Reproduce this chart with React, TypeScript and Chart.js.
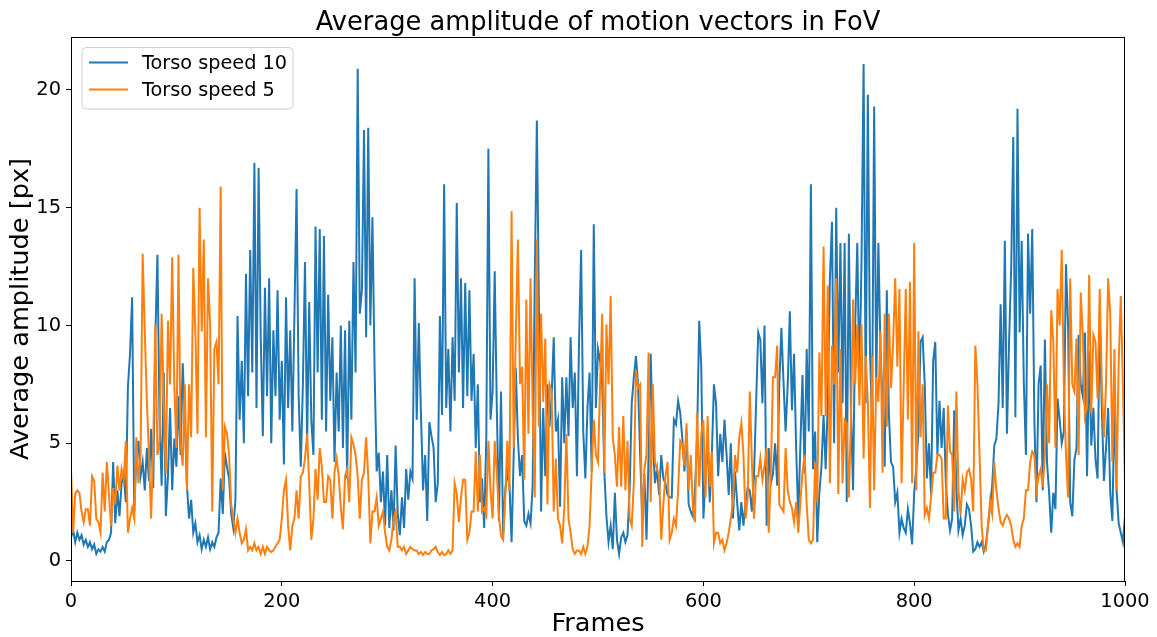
import React, { useEffect, useRef } from 'react';
import { Chart, registerables } from 'chart.js';

Chart.register(...registerables);

const FRAME_STEP = 2;
const X_TICKS = [0, 200, 400, 600, 800, 1000];
const Y_TICKS = [0, 5, 10, 15, 20];
const TITLE = 'Average amplitude of motion vectors in FoV';
const X_LABEL = 'Frames';
const Y_LABEL = 'Average amplitude [px]';
const SERIES_NAMES = ['Torso speed 10', 'Torso speed 5'];

// Torso speed 10 (blue), one value every 2 frames
const speed10_000 = [1.0, 1.3, 0.8, 1.2, 0.9, 1.1, 0.7, 0.9, 0.6, 0.8, 0.5, 0.7, 0.3, 0.5, 0.4, 0.6, 0.4, 0.8, 0.9, 1.2, 4.2, 1.6, 3.0, 1.9, 3.3, 3.7, 2.5, 7.4, 8.8, 11.2, 2.1, 4.4, 5.1, 3.6, 4.2, 3.0, 4.8, 3.4, 5.6, 3.1, 9.5, 13.0, 6.0, 3.2, 8.0, 1.9, 3.6, 6.5, 3.0, 5.2];
const speed10_100 = [4.0, 7.0, 4.5, 8.4, 6.0, 3.2, 1.8, 2.6, 1.2, 1.6, 0.8, 1.1, 0.5, 0.9, 0.6, 1.0, 0.5, 0.8, 0.6, 1.0, 1.2, 3.5, 2.0, 4.6, 4.0, 3.5, 2.0, 1.4, 2.6, 10.4, 6.0, 8.5, 5.0, 12.2, 7.0, 13.2, 8.0, 16.9, 6.5, 16.7, 9.5, 5.3, 11.6, 7.0, 12.0, 5.0, 9.8, 7.0, 11.5, 6.0];
const speed10_200 = [8.5, 4.1, 11.2, 6.5, 9.8, 5.5, 10.5, 15.8, 7.0, 4.0, 7.5, 12.7, 5.0, 11.0, 6.0, 4.5, 14.2, 8.0, 14.1, 6.0, 13.8, 5.5, 11.3, 6.8, 9.5, 4.2, 8.0, 5.5, 10.0, 4.8, 9.8, 3.5, 10.2, 6.0, 12.7, 8.0, 20.9, 10.5, 11.5, 18.3, 9.5, 18.4, 10.0, 14.6, 8.2, 3.8, 4.6, 2.5, 3.8, 1.5];
const speed10_300 = [4.5, 1.4, 3.0, 1.3, 4.9, 2.0, 1.1, 2.7, 1.4, 3.9, 2.6, 3.8, 3.5, 12.0, 6.0, 10.1, 6.3, 3.0, 4.5, 1.7, 5.9, 5.3, 4.8, 2.5, 3.3, 10.4, 6.2, 16.0, 6.5, 9.0, 5.5, 9.5, 6.8, 15.2, 8.0, 12.0, 6.5, 11.8, 7.0, 11.5, 6.8, 8.8, 4.8, 7.5, 2.5, 3.5, 1.4, 5.2, 17.5, 6.0];
const speed10_400 = [7.2, 12.3, 6.5, 1.7, 7.2, 1.1, 3.0, 3.8, 3.2, 0.8, 4.5, 8.2, 5.2, 3.6, 4.5, 1.7, 1.5, 2.0, 1.6, 3.2, 12.0, 18.7, 10.6, 2.1, 6.5, 3.6, 7.5, 5.7, 7.0, 9.5, 5.5, 6.0, 2.3, 7.8, 5.0, 7.8, 5.3, 9.5, 6.5, 8.0, 3.6, 9.3, 13.2, 5.5, 3.5, 6.5, 8.0, 3.8, 14.3, 6.5];
const speed10_500 = [9.0, 8.5, 7.5, 3.8, 1.9, 0.8, 1.5, 0.5, 2.9, 0.9, 0.3, 1.0, 1.2, 0.8, 1.1, 3.0, 6.7, 7.8, 8.7, 7.5, 4.5, 1.8, 3.7, 0.9, 4.5, 8.8, 5.2, 3.3, 3.9, 2.8, 4.5, 3.5, 3.3, 2.8, 2.7, 2.7, 6.0, 5.8, 6.8, 6.3, 5.2, 3.8, 5.5, 2.4, 2.1, 1.9, 3.0, 5.2, 10.2, 8.2];
const speed10_600 = [1.8, 3.6, 5.2, 2.5, 4.5, 7.5, 6.7, 3.6, 5.4, 4.2, 6.0, 4.5, 2.8, 5.0, 1.8, 3.8, 2.5, 1.3, 2.5, 1.5, 2.5, 3.1, 3.0, 2.1, 3.6, 6.7, 9.7, 9.4, 6.7, 10.0, 1.5, 4.8, 3.3, 3.7, 5.0, 3.2, 7.5, 9.9, 7.6, 5.5, 7.5, 10.6, 6.4, 8.8, 4.8, 1.8, 4.9, 7.9, 3.7, 9.0];
const speed10_700 = [5.5, 16.0, 3.9, 5.5, 0.8, 2.9, 4.0, 6.2, 3.9, 6.7, 12.0, 14.4, 5.0, 15.0, 8.0, 13.5, 6.7, 13.5, 2.5, 13.9, 6.5, 3.0, 10.0, 13.5, 7.5, 12.7, 21.1, 6.7, 19.8, 9.0, 5.8, 19.3, 7.5, 13.5, 9.0, 6.8, 4.0, 11.5, 6.2, 4.2, 4.0, 2.5, 2.9, 1.2, 1.8, 1.4, 1.2, 2.2, 1.6, 0.7];
const speed10_800 = [2.9, 4.0, 5.5, 9.3, 9.5, 7.5, 3.5, 5.0, 2.8, 8.5, 9.3, 4.5, 6.8, 4.8, 6.5, 3.3, 2.0, 1.3, 1.8, 6.4, 3.1, 1.3, 1.8, 1.1, 1.5, 2.4, 2.2, 1.5, 0.4, 0.5, 0.8, 0.6, 0.8, 0.4, 0.7, 1.5, 2.3, 3.2, 4.9, 5.2, 6.7, 10.9, 6.5, 13.6, 5.4, 9.3, 12.4, 18.0, 6.1, 19.2];
const speed10_900 = [9.7, 13.6, 7.6, 4.5, 13.9, 10.5, 14.1, 6.0, 2.5, 7.5, 8.3, 3.0, 9.4, 4.2, 2.9, 1.2, 2.9, 2.2, 6.9, 6.0, 5.0, 5.5, 12.6, 10.0, 2.5, 1.9, 4.3, 4.8, 9.6, 7.5, 7.0, 9.7, 3.6, 8.9, 4.9, 6.5, 4.3, 3.5, 10.3, 6.5, 3.4, 4.8, 6.5, 2.9, 1.7, 6.7, 3.0, 1.6, 1.2, 0.8];
const speed10_last = [1.9];

// Torso speed 5 (orange), one value every 2 frames
const speed5_000 = [3.9, 1.2, 2.85, 3.0, 2.9, 2.1, 1.65, 2.2, 2.2, 1.5, 3.6, 3.4, 1.8, 1.65, 1.2, 3.75, 2.1, 4.2, 2.85, 1.5, 3.1, 2.4, 4.05, 3.0, 3.9, 3.45, 5.1, 1.2, 1.8, 2.25, 1.8, 5.25, 3.3, 4.5, 13.05, 9.75, 6.75, 4.5, 1.8, 4.8, 10.05, 4.5, 5.1, 10.5, 6.75, 3.75, 10.2, 7.5, 12.9, 7.5];
const speed5_100 = [4.8, 13.0, 5.0, 4.05, 7.5, 3.0, 7.5, 5.25, 12.45, 9.75, 5.4, 15.0, 9.75, 13.65, 5.25, 12.0, 10.05, 2.1, 9.0, 9.3, 7.5, 15.9, 3.0, 5.7, 5.4, 4.5, 2.4, 1.8, 1.2, 1.8, 1.2, 0.75, 0.9, 1.35, 0.45, 0.6, 0.45, 0.75, 0.45, 0.6, 0.3, 0.6, 0.3, 0.6, 0.45, 0.38, 0.45, 0.6, 0.75, 0.9];
const speed5_200 = [1.8, 3.0, 3.45, 1.5, 0.45, 1.5, 1.8, 3.0, 1.8, 3.6, 3.75, 4.35, 5.4, 3.3, 0.9, 1.8, 3.9, 2.6, 4.8, 4.0, 2.5, 2.5, 3.6, 3.45, 1.8, 3.75, 4.35, 3.6, 2.25, 1.35, 3.6, 3.9, 2.5, 5.25, 4.95, 4.5, 3.6, 1.8, 3.45, 3.75, 5.25, 3.6, 0.75, 2.1, 2.1, 2.7, 1.5, 1.8, 2.1, 1.2];
const speed5_300 = [0.6, 0.45, 0.9, 1.8, 2.1, 0.6, 0.6, 0.45, 0.6, 0.3, 0.45, 0.6, 0.5, 0.45, 0.45, 0.3, 0.38, 0.25, 0.38, 0.3, 0.3, 0.45, 0.5, 0.6, 0.38, 0.25, 0.38, 0.25, 0.3, 0.45, 0.3, 0.45, 3.3, 2.85, 1.65, 2.7, 3.45, 3.45, 0.9, 1.2, 2.1, 2.1, 4.65, 2.1, 4.5, 2.1, 2.25, 1.95, 5.1, 3.0];
const speed5_400 = [1.8, 5.1, 3.75, 1.95, 1.05, 0.9, 2.7, 5.1, 3.0, 14.85, 4.8, 9.6, 13.65, 7.5, 8.25, 3.45, 11.1, 5.4, 12.0, 6.45, 2.7, 13.65, 5.7, 10.5, 6.75, 9.45, 2.4, 7.5, 7.2, 2.1, 4.35, 1.8, 1.5, 0.75, 2.25, 5.4, 1.8, 1.2, 0.5, 0.3, 0.45, 0.45, 0.3, 0.6, 0.3, 0.6, 1.5, 3.8, 6.0, 4.5];
const speed5_500 = [4.2, 7.5, 10.5, 3.75, 10.05, 7.5, 11.25, 5.25, 4.5, 3.15, 5.7, 3.15, 6.15, 3.0, 5.1, 1.8, 1.5, 3.3, 8.1, 7.35, 7.5, 0.6, 3.9, 4.5, 8.85, 2.5, 7.5, 4.2, 3.9, 3.6, 0.9, 2.4, 3.6, 4.2, 0.9, 1.2, 1.8, 1.5, 3.0, 5.1, 4.95, 4.05, 5.85, 3.0, 4.5, 2.25, 1.65, 6.3, 3.15, 5.4];
const speed5_600 = [6.0, 2.7, 6.15, 3.15, 4.65, 0.75, 1.2, 1.2, 0.75, 0.9, 0.45, 0.75, 1.2, 1.8, 2.5, 4.5, 3.75, 5.25, 5.85, 4.5, 1.8, 2.7, 7.2, 4.2, 1.8, 3.6, 3.6, 4.35, 3.45, 4.05, 4.8, 1.2, 3.75, 7.8, 7.8, 9.15, 2.4, 2.25, 2.1, 4.8, 3.0, 2.5, 2.25, 1.65, 2.5, 1.2, 2.5, 3.75, 4.5, 2.4];
const speed5_700 = [0.9, 0.75, 0.9, 4.2, 2.5, 8.85, 6.15, 13.35, 6.15, 11.7, 3.3, 9.15, 7.5, 12.0, 2.85, 9.0, 3.3, 6.0, 5.85, 2.7, 6.0, 11.1, 7.5, 10.05, 6.6, 10.05, 4.35, 8.7, 6.75, 2.25, 8.7, 3.0, 7.8, 6.75, 9.75, 3.75, 10.5, 5.7, 10.5, 7.35, 9.3, 12.0, 8.25, 11.55, 3.3, 7.35, 11.55, 6.0, 11.85, 3.3];
const speed5_800 = [13.5, 3.0, 9.75, 5.25, 7.5, 1.95, 2.25, 1.8, 2.7, 3.75, 3.75, 4.5, 4.5, 4.35, 1.8, 1.8, 6.6, 4.65, 4.5, 2.1, 7.2, 3.0, 1.95, 3.45, 3.0, 3.75, 3.9, 3.45, 2.1, 9.15, 7.5, 4.5, 1.5, 0.45, 0.45, 1.5, 2.55, 2.0, 4.2, 3.0, 2.25, 1.65, 1.5, 1.8, 1.95, 1.8, 1.5, 0.9, 0.6, 0.75];
const speed5_900 = [0.6, 1.5, 1.8, 3.0, 3.0, 4.2, 4.65, 4.5, 3.0, 3.6, 3.9, 3.15, 4.5, 7.5, 5.0, 10.65, 9.3, 4.8, 11.55, 10.0, 13.2, 7.5, 4.5, 2.7, 12.0, 7.5, 7.2, 9.45, 4.5, 11.4, 9.6, 6.15, 6.6, 12.15, 6.3, 9.6, 9.3, 6.9, 11.55, 7.5, 5.25, 7.5, 12.0, 10.5, 4.2, 9.0, 3.0, 8.4, 11.25, 7.5];
const speed5_last = [3.3];

const speed10 = [
  ...speed10_000, ...speed10_100, ...speed10_200, ...speed10_300, ...speed10_400,
  ...speed10_500, ...speed10_600, ...speed10_700, ...speed10_800, ...speed10_900, ...speed10_last,
];
const speed5 = [
  ...speed5_000, ...speed5_100, ...speed5_200, ...speed5_300, ...speed5_400,
  ...speed5_500, ...speed5_600, ...speed5_700, ...speed5_800, ...speed5_900, ...speed5_last,
];

const COLORS = ['#1f77b4', '#ff7f0e'];
const FONT = "'DejaVu Sans', sans-serif";

export default function App() {
  const ref = useRef<HTMLCanvasElement | null>(null);

  useEffect(() => {
    const canvas = ref.current;
    if (!canvas) return;
    const toPts = (arr: number[]) => arr.map((v, i) => ({ x: i * FRAME_STEP, y: v }));

    const decor = {
      id: 'decor',
      afterDraw(chart: any) {
        const ctx = chart.ctx as CanvasRenderingContext2D;
        const a = chart.chartArea;
        ctx.save();
        // spines
        ctx.strokeStyle = '#000';
        ctx.lineWidth = 1;
        ctx.strokeRect(a.left + 0.5, a.top + 0.5, a.right - a.left - 1, a.bottom - a.top);
        // title
        ctx.fillStyle = '#000';
        ctx.font = `25.7px ${FONT}`;
        ctx.textAlign = 'center';
        ctx.textBaseline = 'alphabetic';
        ctx.fillText(TITLE, (a.left + a.right) / 2, 30);
        // x label
        ctx.font = `25.6px ${FONT}`;
        ctx.fillText(X_LABEL, (a.left + a.right) / 2, 631);
        // y label
        ctx.save();
        ctx.translate(28, (a.top + a.bottom) / 2);
        ctx.rotate(-Math.PI / 2);
        ctx.fillText(Y_LABEL, 0, 0);
        ctx.restore();
        // legend
        const bx = 82, by = 47.5, bw = 211, bh = 61.5, r = 4;
        ctx.beginPath();
        ctx.moveTo(bx + r, by);
        ctx.lineTo(bx + bw - r, by);
        ctx.quadraticCurveTo(bx + bw, by, bx + bw, by + r);
        ctx.lineTo(bx + bw, by + bh - r);
        ctx.quadraticCurveTo(bx + bw, by + bh, bx + bw - r, by + bh);
        ctx.lineTo(bx + r, by + bh);
        ctx.quadraticCurveTo(bx, by + bh, bx, by + bh - r);
        ctx.lineTo(bx, by + r);
        ctx.quadraticCurveTo(bx, by, bx + r, by);
        ctx.closePath();
        ctx.fillStyle = 'rgba(255,255,255,0.8)';
        ctx.fill();
        ctx.strokeStyle = '#d0d0d0';
        ctx.lineWidth = 1;
        ctx.stroke();
        const rows = [62.5, 89.5];
        ctx.font = `19.3px ${FONT}`;
        ctx.textAlign = 'left';
        ctx.textBaseline = 'middle';
        SERIES_NAMES.forEach((name, i) => {
          ctx.strokeStyle = COLORS[i];
          ctx.lineWidth = 2;
          ctx.beginPath();
          ctx.moveTo(89, rows[i]);
          ctx.lineTo(128, rows[i]);
          ctx.stroke();
          ctx.fillStyle = '#000';
          ctx.fillText(name, 142, rows[i] + 1);
        });
        ctx.restore();
      },
    };

    const axisCommon = {
      grid: { drawOnChartArea: false, drawTicks: true, tickLength: 5, color: '#000', lineWidth: 1 },
      border: { display: true, color: '#000', width: 1 },
    };

    const chart = new Chart(canvas, {
      type: 'line',
      data: {
        datasets: [
          {
            label: SERIES_NAMES[0],
            data: toPts(speed10),
            borderColor: COLORS[0],
            backgroundColor: COLORS[0],
            borderWidth: 2,
            pointRadius: 0,
            tension: 0,
            order: 2,
          },
          {
            label: SERIES_NAMES[1],
            data: toPts(speed5),
            borderColor: COLORS[1],
            backgroundColor: COLORS[1],
            borderWidth: 2,
            pointRadius: 0,
            tension: 0,
            order: 1,
          },
        ],
      },
      options: {
        responsive: false,
        animation: false,
        devicePixelRatio: 1,
        layout: { padding: { top: 37, right: 32, left: 0, bottom: 0 } },
        plugins: {
          legend: { display: false },
          title: { display: false },
          tooltip: { enabled: false },
        },
        scales: {
          x: {
            type: 'linear',
            min: 0,
            max: 1000,
            afterBuildTicks: (s: any) => {
              s.ticks = X_TICKS.map((v) => ({ value: v }));
            },
            afterFit: (s: any) => {
              s.height = 56;
            },
            ticks: {
              color: '#000',
              font: { family: FONT, size: 19.4 },
              padding: 4,
              maxRotation: 0,
              autoSkip: false,
              callback: (v: any) => String(v),
            },
            ...axisCommon,
          },
          y: {
            type: 'linear',
            min: -0.85,
            max: 22.25,
            afterBuildTicks: (s: any) => {
              s.ticks = Y_TICKS.map((v) => ({ value: v }));
            },
            afterFit: (s: any) => {
              s.width = 71;
            },
            ticks: {
              color: '#000',
              font: { family: FONT, size: 19.4 },
              padding: 5,
              autoSkip: false,
              callback: (v: any) => String(v),
            },
            ...axisCommon,
          },
        },
      } as any,
      plugins: [decor],
    });
    return () => chart.destroy();
  }, []);

  return (
    <div style={{ position: 'absolute', left: 0, top: 0, width: 1157, height: 637, background: '#fff' }}>
      <canvas ref={ref} width={1157} height={637} style={{ display: 'block' }} />
    </div>
  );
}
